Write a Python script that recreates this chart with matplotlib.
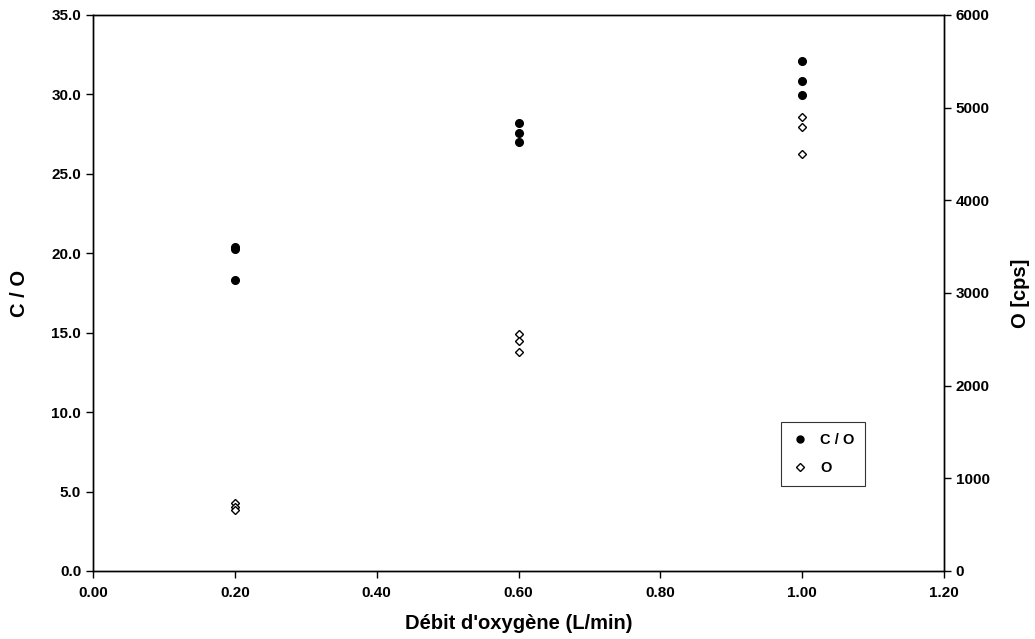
import matplotlib
matplotlib.use("Agg")
import matplotlib.pyplot as plt
from matplotlib.lines import Line2D

plt.rcParams['font.family'] = ['Liberation Sans', 'DejaVu Sans']
plt.rcParams['font.weight'] = 'bold'

debit = [0.2, 0.2, 0.2, 0.6, 0.6, 0.6, 1.0, 1.0, 1.0]
c_sur_o = [20.3, 20.4, 18.3, 28.2, 27.6, 27.0, 32.1, 30.85, 29.95]
o_cps = [735, 690, 655, 2555, 2480, 2365, 4900, 4790, 4500]

x_ticks = [0.0, 0.2, 0.4, 0.6, 0.8, 1.0, 1.2]
y_ticks = [0, 5, 10, 15, 20, 25, 30, 35]
y2_ticks = [0, 1000, 2000, 3000, 4000, 5000, 6000]

fig = plt.figure(figsize=(10.35, 6.39), dpi=100)
ax = fig.add_axes([93/1035, 1-571/639, (944-93)/1035, (571-15)/639])
ax2 = ax.twinx()

ax.plot(debit, c_sur_o, 'o', color='black', markersize=5.5, linestyle='none')
ax2.plot(debit, o_cps, 'D', markerfacecolor='white', markeredgecolor='black',
         markersize=4.3, markeredgewidth=1.0, linestyle='none')

ax.set_xlim(0, 1.2)
ax.set_ylim(0, 35)
ax2.set_ylim(0, 6000)
ax.set_xticks(x_ticks)
ax.set_xticklabels([f"{v:.2f}" for v in x_ticks])
ax.set_yticks(y_ticks)
ax.set_yticklabels([f"{v:.1f}" for v in y_ticks])
ax2.set_yticks(y2_ticks)
ax2.set_yticklabels([str(v) for v in y2_ticks])

for a in (ax, ax2):
    a.tick_params(direction='out', length=5, width=1, labelsize=11)
    for s in a.spines.values():
        s.set_linewidth(1.0)
ax.tick_params(axis='x', pad=6)

ax.set_xlabel("Débit d'oxygène (L/min)", fontsize=14.5, fontweight='bold', labelpad=10)
ax.set_ylabel("C / O", fontsize=14.5, fontweight='bold', labelpad=16)
ax2.set_ylabel("O [cps]", fontsize=14.5, fontweight='bold', labelpad=15)

handles = [
    Line2D([], [], marker='o', color='black', linestyle='none', markersize=5),
    Line2D([], [], marker='D', markerfacecolor='white', markeredgecolor='black',
           linestyle='none', markersize=4),
]
leg = ax2.legend(handles, ["C / O", "O"], loc='upper left',
                 bbox_to_anchor=(0.809, 0.268), frameon=True, fancybox=False,
                 edgecolor='black', handlelength=1.0,
                 handletextpad=0.9, borderpad=0.75, labelspacing=0.95,
                 borderaxespad=0.0,
                 prop={'weight': 'bold', 'size': 10.5})
leg.get_frame().set_linewidth(0.8)

fig.savefig("out.png", dpi=100)
